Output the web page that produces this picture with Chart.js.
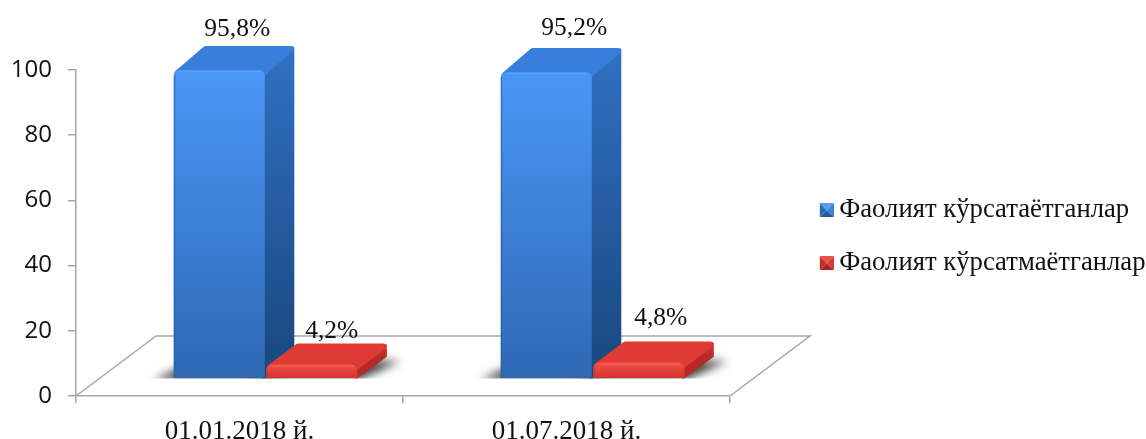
<!DOCTYPE html>
<html><head><meta charset="utf-8">
<style>html,body{margin:0;padding:0;background:#fff}canvas{display:block}</style>
<script src="https://cdn.jsdelivr.net/npm/chart.js@4"></script>
</head><body>
<canvas id="c" width="1146" height="439"></canvas>
<script>
const categories = ['01.01.2018 й.', '01.07.2018 й.'];
const activeName = 'Фаолият кўрсатаётганлар';
const inactiveName = 'Фаолият кўрсатмаётганлар';
const activeValues = [95.8, 95.2];
const inactiveValues = [4.2, 4.8];
const yTicks = [0, 20, 40, 60, 80, 100];

const SERIF = '"Liberation Serif","Times New Roman",serif';
const SKINS = [
  {front:['#4a97f8','#2f68b3'], top:'#397edb', side:['#3270c4','#1a4a83'], edge:'#2a5fa8', light:'#5aa2f5', depthY:-24, bevel:['#5ba0e8','#3a86d4','#1f5c9e','#2a6db5']},
  {front:['#f0504a','#d5332d'], top:'#e03a34', side:['#d8352f','#b52a26'], edge:'#c22a26', light:'#f5655e', depthY:-21, bevel:['#e8504a','#d63a34','#a82420','#c22d29']}
];
const DX = 26, DEPTH_X = 29;
const LABEL_OFFSETS = [[[18,-41],[28,-44]],[[20,-33],[22,-44]]];

function bevelIcon(s){
  const c=document.createElement('canvas');c.width=22;c.height=14;const g=c.getContext('2d');
  g.translate(8,0);
  const tri=[[[0,0],[14,0],[7,7]],[[14,0],[14,14],[7,7]],[[14,14],[0,14],[7,7]],[[0,14],[0,0],[7,7]]];
  tri.forEach((t,i)=>{g.fillStyle=s.bevel[i];g.beginPath();g.moveTo(...t[0]);g.lineTo(...t[1]);g.lineTo(...t[2]);g.closePath();g.fill();});
  return c;
}
function faceGradient(chart,ctx,colors){
  const y2=chart.scales.y2;
  if(!y2||ctx.raw===undefined) return colors[0];
  const g=chart.ctx.createLinearGradient(0,y2.getPixelForValue(ctx.raw),0,y2.getPixelForValue(0));
  g.addColorStop(0,colors[0]);g.addColorStop(1,colors[1]);return g;
}
const poly=(c,pts)=>{c.beginPath();pts.forEach((p,i)=>i?c.lineTo(p[0],p[1]):c.moveTo(p[0],p[1]));c.closePath();};

const depthPlugin={
  id:'depth',
  beforeLayout(chart){
    const l=chart.legend;
    if(l&&!l._wrapped){const f=l.fit;l.fit=function(){f.call(this);this.width=416;};l._wrapped=true;}
  },
  afterLayout(chart){
    const l=chart.legend;
    l.left=793.5;l.right=1146;l.top=170.5;
  },
  beforeDatasetsDraw(chart){
    const c=chart.ctx,a=chart.chartArea;
    c.save();
    // floor outline
    c.strokeStyle='#a6a6a6';c.lineWidth=1.5;
    c.beginPath();c.moveTo(a.left,a.bottom);c.lineTo(a.left+80,a.bottom-60);c.lineTo(a.right+80,a.bottom-60);c.lineTo(a.right,a.bottom);c.stroke();
    c.translate(DX,0);
    chart.data.datasets.forEach((ds,d)=>{
      const dy=SKINS[d].depthY;
      chart.getDatasetMeta(d).data.forEach(b=>{
        const p=b.getProps(['x','y','base','width'],true);
        const x0=p.x-p.width/2,x1=p.x+p.width/2,dx=DEPTH_X;
        // soft floor shadow
        c.save();
        c.beginPath();c.rect(x0-50,p.base+dy-10,p.width+dx+110,-dy+10.5);c.clip();
        c.filter='blur(5px)';
        c.fillStyle='rgba(30,30,30,.9)';
        poly(c,[[x0-20,p.base+2],[x1,p.base+2],[x1+dx+14,p.base+dy+4],[x0+dx,p.base+dy+4]]);c.fill();
        c.restore();
      });
    });
    chart.data.datasets.forEach((ds,d)=>{
      const skin=SKINS[d],dy=skin.depthY;
      chart.getDatasetMeta(d).data.forEach(b=>{
        const p=b.getProps(['x','y','base','width'],true);
        const x0=p.x-p.width/2,x1=p.x+p.width/2,dx=DEPTH_X;
        // side face
        let g=c.createLinearGradient(0,p.y+dy,0,p.base+dy);
        g.addColorStop(0,skin.side[0]);g.addColorStop(1,skin.side[1]);
        c.fillStyle=g;c.strokeStyle=g;c.lineWidth=3;c.lineJoin='round';
        poly(c,[[x1-1,p.y+2],[x1+dx-1,p.y+dy+2],[x1+dx-1,p.base+dy-1],[x1-1,p.base-1]]);c.fill();c.stroke();
        // top face
        c.fillStyle=skin.top;c.strokeStyle=skin.top;c.lineWidth=6;
        poly(c,[[x0+4,p.y+3],[x1-2,p.y+3],[x1+dx-3,p.y+dy+3],[x0+dx+3,p.y+dy+3]]);c.fill();c.stroke();
      });
    });
  },
  afterDatasetsDraw(chart){
    const c=chart.ctx;
    chart.data.datasets.forEach((ds,d)=>{
      const skin=SKINS[d];
      chart.getDatasetMeta(d).data.forEach(b=>{
        const p=b.getProps(['x','y','base','width'],true);
        const x0=p.x-p.width/2,x1=p.x+p.width/2;
        c.strokeStyle=skin.edge;c.globalAlpha=.55;c.lineWidth=1.5;
        c.beginPath();c.moveTo(x0+1,p.y+5);c.lineTo(x0+1,p.base);c.stroke();
        c.strokeStyle=skin.light;c.globalAlpha=.7;
        c.beginPath();c.moveTo(x0+5,p.y+1.5);c.lineTo(x1-4,p.y+1.5);c.stroke();
        c.globalAlpha=1;
      });
    });
    c.restore();
    c.save();
    c.font='25.5px '+SERIF;c.fillStyle='#111';c.textAlign='center';c.textBaseline='middle';
    chart.data.datasets.forEach((ds,d)=>{
      chart.getDatasetMeta(d).data.forEach((b,i)=>{
        const off=LABEL_OFFSETS[d][i];
        const txt=ds.data[i].toFixed(1).replace('.',',')+'%';
        c.fillText(txt,b.x+DX+off[0],b.y+off[1]);
      });
    });
    c.restore();
  }
};

new Chart(document.getElementById('c'),{
  type:'bar',
  data:{labels:categories,datasets:[
    {label:activeName,data:activeValues,yAxisID:'y2',clip:false,borderRadius:{topLeft:6,topRight:6},
     backgroundColor:ctx=>faceGradient(ctx.chart,ctx,SKINS[0].front)},
    {label:inactiveName,data:inactiveValues,yAxisID:'y2',clip:false,borderRadius:{topLeft:6,topRight:6},
     backgroundColor:ctx=>faceGradient(ctx.chart,ctx,SKINS[1].front)}
  ]},
  options:{
    responsive:false,animation:false,
    layout:{padding:{top:70,left:0,right:0,bottom:0}},
    datasets:{bar:{categoryPercentage:.566,barPercentage:.985}},
    plugins:{
      tooltip:{enabled:false},
      legend:{
        position:'right',align:'start',
        labels:{
          padding:26.3,boxWidth:6,boxHeight:14,usePointStyle:true,color:'#111',
          font:{family:SERIF,size:26.7},
          generateLabels(chart){
            return chart.data.datasets.map((ds,i)=>({text:ds.label,datasetIndex:i,pointStyle:bevelIcon(SKINS[i]),fontColor:'#111',lineWidth:0,hidden:false}));
          }
        }
      }
    },
    scales:{
      x:{
        type:'category',
        afterFit(s){s.height=43;},
        border:{color:'#a6a6a6',width:1.5},
        grid:{drawOnChartArea:false,tickLength:7,color:'#a6a6a6',lineWidth:1.5},
        ticks:{color:'#111',font:{family:SERIF,size:27},padding:13,maxRotation:0}
      },
      y:{
        position:'left',min:0,max:100,
        afterFit(s){s.width=76;},
        afterBuildTicks(s){s.ticks=yTicks.map(v=>({value:v}));},
        border:{color:'#a6a6a6',width:1.5},
        grid:{drawOnChartArea:false,tickLength:8,color:'#a6a6a6',lineWidth:1.5},
        ticks:{color:'#111',font:{family:'"Open Sans",sans-serif',size:24},padding:16}
      },
      y2:{display:false,min:-5.6,max:95.8}
    }
  },
  plugins:[depthPlugin]
});
</script>
</body></html>
